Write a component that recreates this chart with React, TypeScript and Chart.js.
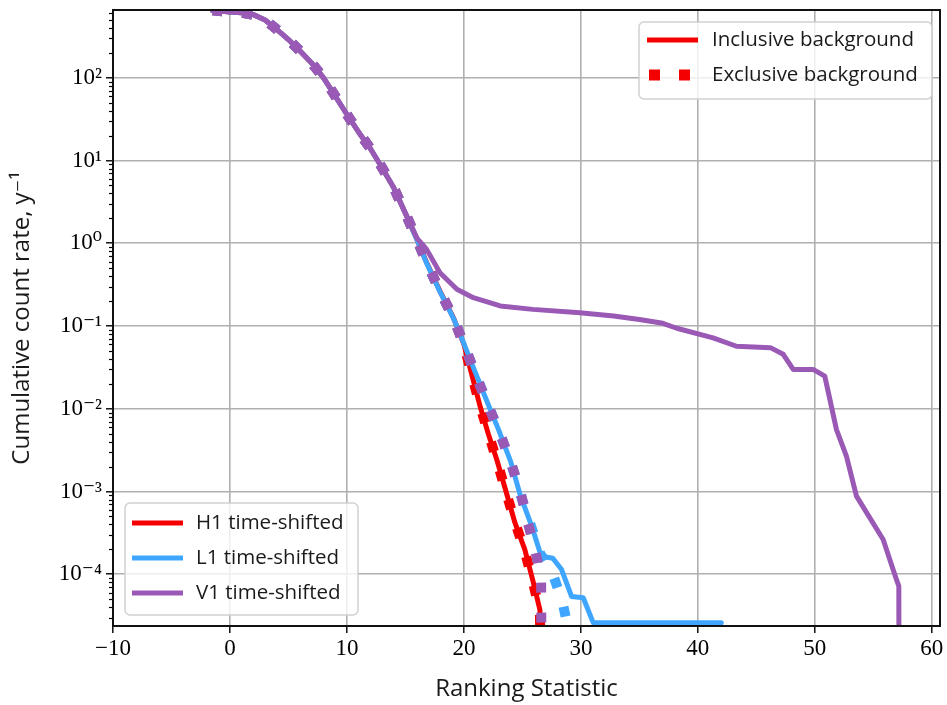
import React, { useEffect, useRef } from 'react';
import { Chart, registerables } from 'chart.js';

Chart.register(...registerables);

// ---------- axes ----------
const X_MIN = -10;
const X_MAX = 60.7;
const Y_MIN = 2.37e-5;
const Y_MAX = 660;
const xTickValues = [-10, 0, 10, 20, 30, 40, 50, 60];
const yTickValues = [1e-4, 1e-3, 1e-2, 1e-1, 1, 10, 100];
const yTickLabels = ['10⁻⁴', '10⁻³', '10⁻²', '10⁻¹', '10⁰', '10¹', '10²'];

// ---------- data (ranking statistic vs cumulative rate per year) ----------
// shared high-rate part of every curve
const headX = [-1.5, 0, 1, 2, 3, 4, 5, 6, 7, 8, 9, 10, 11, 12, 13, 14, 15];
const headY = [655, 625, 610, 580, 500, 385, 290, 210, 150, 100, 60, 36, 22, 14, 8.2, 4.7, 2.3];

// inclusive background
const h1IncX = [16, 16.8, 17.95, 19.1, 20, 20.7, 21.4, 22.1, 22.8, 23.6, 24.36, 25.2, 25.9, 26.5, 26.65];
const h1IncY = [1.1, 0.59, 0.265, 0.126, 0.06, 0.025, 0.0105, 0.0049, 0.00245, 0.001, 4.2e-4, 2.0e-4, 8.3e-5, 3.7e-5, 1e-6];

const l1IncX = [16, 16.8, 17.95, 19.1, 20, 21, 22, 23, 24, 24.8, 25.8, 26.5, 27.0, 27.6, 28.35, 29.2, 30.2, 31.05, 42.0];
const l1IncY = [1.1, 0.58, 0.26, 0.125, 0.061, 0.027, 0.012, 0.0054, 0.0023, 9.2e-4, 3.8e-4, 1.85e-4, 1.62e-4, 1.56e-4, 1.14e-4, 5.4e-5, 5.2e-5, 2.6e-5, 2.6e-5];

const v1IncX = [16, 16.8, 17.95, 19.4, 20.8, 22.2, 23.1, 25.9, 29.9, 32.8, 35, 37, 38.2, 41.3, 43.3, 46.2, 47.3, 48.15, 49.85, 50.85, 51.85, 52.7, 53.56, 55.84, 56.98, 57.18, 57.2];
const v1IncY = [1.15, 0.85, 0.44, 0.278, 0.22, 0.192, 0.175, 0.159, 0.145, 0.132, 0.12, 0.108, 0.094, 0.072, 0.057, 0.0548, 0.0455, 0.0299, 0.0299, 0.0248, 0.0056, 0.00268, 8.8e-4, 2.63e-4, 8.6e-5, 7.2e-5, 1e-6];

// exclusive background
const h1ExcX = [16, 16.8, 17.95, 19.1, 20, 20.7, 21.4, 22.1, 22.8, 23.6, 24.36, 25.2, 25.9, 26.5, 26.6];
const h1ExcY = [1.1, 0.59, 0.265, 0.125, 0.059, 0.025, 0.0105, 0.005, 0.0024, 9.8e-4, 4.3e-4, 1.9e-4, 8.0e-5, 3.5e-5, 1e-6];

const l1ExcX = [16, 16.8, 17.95, 19.1, 20, 21, 22, 23, 24, 24.8, 25.8, 26.5, 27.6, 28.4, 28.8, 28.85];
const l1ExcY = [1.1, 0.585, 0.262, 0.125, 0.06, 0.026, 0.0118, 0.0053, 0.0023, 9.5e-4, 3.6e-4, 1.8e-4, 1.0e-4, 4.8e-5, 2.6e-5, 1e-6];

const v1ExcX = [16, 16.8, 17.95, 19.1, 20, 21, 21.95, 23, 23.93, 24.8, 25.4, 26.07, 26.6, 26.65];
const v1ExcY = [1.1, 0.59, 0.265, 0.126, 0.06, 0.026, 0.0119, 0.0054, 0.0024, 1.04e-3, 4.5e-4, 2.03e-4, 9e-5, 1e-6];

// ---------- styles ----------
const RED = '#f50000';
const BLUE = '#3fa6ff';
const PURPLE = '#9b59b6';
const SANS = "'Open Sans', 'DejaVu Sans', sans-serif";
const SERIF = "'Liberation Serif', 'DejaVu Serif', serif";

const detectorLegend = [
  { label: 'H1 time-shifted', color: RED },
  { label: 'L1 time-shifted', color: BLUE },
  { label: 'V1 time-shifted', color: PURPLE },
];
const styleLegend = [
  { label: 'Inclusive background', dashed: false },
  { label: 'Exclusive background', dashed: true },
];

function pts(xs: number[], ys: number[]) {
  const X = headX.concat(xs);
  const Y = headY.concat(ys);
  return X.map((x, i) => ({ x, y: Y[i] }));
}

function roundBox(ctx: CanvasRenderingContext2D, x: number, y: number, w: number, h: number) {
  ctx.save();
  ctx.beginPath();
  if ((ctx as any).roundRect) (ctx as any).roundRect(x, y, w, h, 5);
  else ctx.rect(x, y, w, h);
  ctx.fillStyle = 'rgba(255,255,255,0.8)';
  ctx.fill();
  ctx.strokeStyle = 'rgba(204,204,204,0.9)';
  ctx.lineWidth = 1.5;
  ctx.stroke();
  ctx.restore();
}

const framePlugin = {
  id: 'frameMinor',
  afterDatasetsDraw(chart: any) {
    const { ctx, chartArea: a, scales } = chart;
    const ys = scales.y;
    ctx.save();
    ctx.strokeStyle = '#000';
    ctx.lineWidth = 1.2;
    for (let e = -5; e <= 2; e++) {
      for (let m = 2; m <= 9; m++) {
        const v = m * Math.pow(10, e);
        if (v < Y_MIN || v > Y_MAX) continue;
        const py = Math.round(ys.getPixelForValue(v)) + 0.5;
        ctx.beginPath();
        ctx.moveTo(a.left - 4, py);
        ctx.lineTo(a.left, py);
        ctx.stroke();
      }
    }
    ctx.lineWidth = 2;
    ctx.strokeStyle = '#111';
    ctx.strokeRect(a.left, a.top, a.right - a.left, a.bottom - a.top);
    ctx.restore();
  },
};

const legendPlugin = {
  id: 'twoLegends',
  afterDraw(chart: any) {
    const { ctx, chartArea: a } = chart;
    ctx.save();
    ctx.font = `20.5px ${SANS}`;
    ctx.textBaseline = 'middle';
    ctx.fillStyle = '#1a1a1a';

    // upper-right: line styles
    const bx = a.right - 301, by = a.top + 12, bw = 293, bh = 77;
    roundBox(ctx, bx, by, bw, bh);
    styleLegend.forEach((it, i) => {
      const cy = by + 18 + i * 35;
      ctx.save();
      ctx.strokeStyle = RED;
      ctx.lineCap = 'butt';
      if (it.dashed) {
        ctx.lineWidth = 11;
        ctx.setLineDash([11, 19]);
        ctx.beginPath();
        ctx.moveTo(bx + 10, cy);
        ctx.lineTo(bx + 61, cy);
        ctx.stroke();
      } else {
        ctx.lineWidth = 5;
        ctx.beginPath();
        ctx.moveTo(bx + 8, cy);
        ctx.lineTo(bx + 59, cy);
        ctx.stroke();
      }
      ctx.restore();
      ctx.fillStyle = '#1a1a1a';
      ctx.fillText(it.label, bx + 73, cy);
    });

    // lower-left: detectors
    const lx = a.left + 12, lh = 112, ly = a.bottom - 11 - lh, lw = 233;
    roundBox(ctx, lx, ly, lw, lh);
    detectorLegend.forEach((it, i) => {
      const cy = ly + 20 + i * 35;
      ctx.save();
      ctx.strokeStyle = it.color;
      ctx.lineWidth = 5;
      ctx.beginPath();
      ctx.moveTo(lx + 7, cy);
      ctx.lineTo(lx + 58, cy);
      ctx.stroke();
      ctx.restore();
      ctx.fillStyle = '#1a1a1a';
      ctx.fillText(it.label, lx + 71, cy);
    });
    ctx.restore();
  },
};

function solid(label: string, color: string, data: any[], order: number) {
  return {
    label, data, order,
    borderColor: color, backgroundColor: color,
    borderWidth: 5, pointRadius: 0, tension: 0, clip: 0,
    borderCapStyle: 'round', borderJoinStyle: 'round',
  };
}
function dotted(label: string, color: string, data: any[], order: number) {
  return {
    label, data, order,
    borderColor: color, backgroundColor: color,
    borderWidth: 10, borderDash: [10, 20], pointRadius: 0, tension: 0, clip: 0,
    borderCapStyle: 'butt', borderJoinStyle: 'miter',
  };
}

export default function App() {
  const ref = useRef<HTMLCanvasElement | null>(null);
  useEffect(() => {
    if (!ref.current) return;
    const chart = new Chart(ref.current, {
      type: 'line',
      data: {
        datasets: [
          dotted('V1 exclusive', PURPLE, pts(v1ExcX, v1ExcY), 1),
          dotted('L1 exclusive', BLUE, pts(l1ExcX, l1ExcY), 2),
          dotted('H1 exclusive', RED, pts(h1ExcX, h1ExcY), 3),
          solid('V1 inclusive', PURPLE, pts(v1IncX, v1IncY), 4),
          solid('L1 inclusive', BLUE, pts(l1IncX, l1IncY), 5),
          solid('H1 inclusive', RED, pts(h1IncX, h1IncY), 6),
        ] as any,
      },
      options: {
        animation: false,
        responsive: false,
        devicePixelRatio: 1,
        layout: { padding: { top: 10, right: 7, left: 0, bottom: 0 } },
        plugins: { legend: { display: false }, tooltip: { enabled: false } },
        scales: {
          x: {
            type: 'linear',
            min: X_MIN,
            max: X_MAX,
            afterBuildTicks: (s: any) => { s.ticks = xTickValues.map((v) => ({ value: v })); },
            afterFit: (s: any) => { s.height = 79; s.paddingLeft = 0; s.paddingRight = 0; },
            border: { display: false },
            grid: { color: '#b0b0b0', lineWidth: 1.6, drawTicks: true, tickLength: 7, tickColor: '#000', tickWidth: 1.4 },
            ticks: {
              autoSkip: false, maxRotation: 0, padding: 2, color: '#000',
              font: { family: SERIF, size: 23 },
              callback: (v: any) => (v < 0 ? '−' + Math.abs(v) : String(v)),
            },
            title: {
              display: true, text: 'Ranking Statistic', color: '#1a1a1a',
              font: { family: SANS, size: 24 }, padding: { top: 0, bottom: 1 },
            },
          },
          y: {
            type: 'logarithmic',
            min: Y_MIN,
            max: Y_MAX,
            afterBuildTicks: (s: any) => { s.ticks = yTickValues.map((v) => ({ value: v })); },
            afterFit: (s: any) => { s.width = 113; s.paddingTop = 0; s.paddingBottom = 0; },
            border: { display: false },
            grid: { color: '#b0b0b0', lineWidth: 1.6, drawTicks: true, tickLength: 7, tickColor: '#000', tickWidth: 1.4 },
            ticks: {
              autoSkip: false, padding: 4, color: '#000',
              font: { family: SERIF, size: 23 },
              callback: (_v: any, i: number) => yTickLabels[i],
            },
            title: {
              display: true, text: 'Cumulative count rate, y⁻¹', color: '#1a1a1a',
              font: { family: SANS, size: 24 }, padding: { top: 8, bottom: 0 },
            },
          },
        },
      } as any,
      plugins: [framePlugin, legendPlugin],
    });
    return () => chart.destroy();
  }, []);
  return (
    <div style={{ position: 'absolute', left: 0, top: 0, width: 947, height: 705, background: '#fff' }}>
      <canvas ref={ref} width={947} height={705} style={{ width: 947, height: 705, display: 'block' }} />
    </div>
  );
}
